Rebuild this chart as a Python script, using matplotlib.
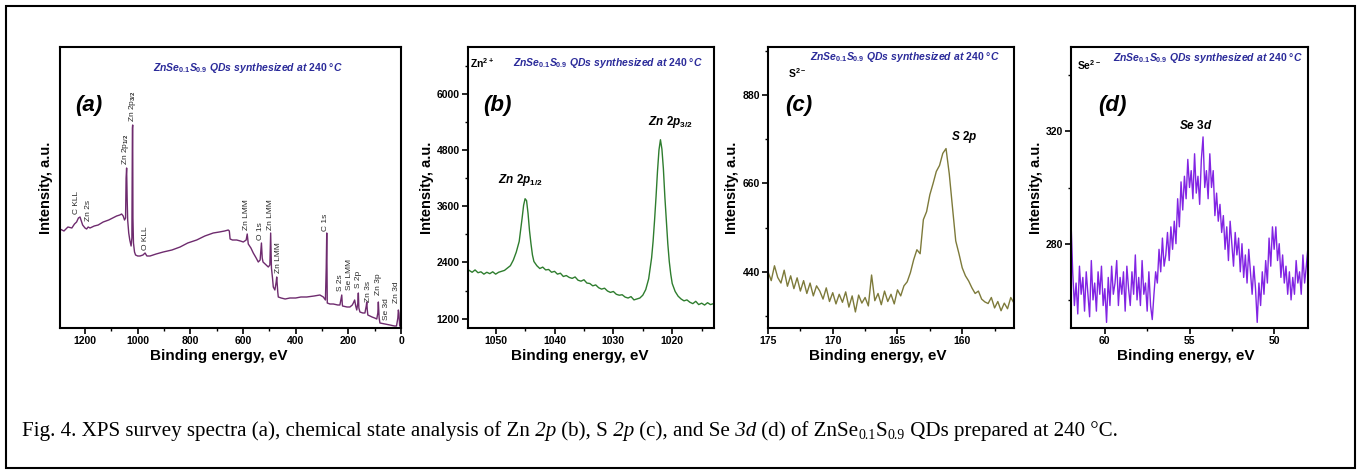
import numpy as np
import matplotlib
matplotlib.use('Agg')
import matplotlib.pyplot as plt
from matplotlib.ticker import MultipleLocator, NullLocator
from matplotlib.patches import Rectangle

plt.rcParams['font.family'] = 'Liberation Sans'
plt.rcParams['font.weight'] = 'bold'
plt.rcParams['mathtext.fontset'] = 'custom'
plt.rcParams['mathtext.rm'] = 'Liberation Sans:bold'
plt.rcParams['mathtext.it'] = 'Liberation Sans:italic:bold'
plt.rcParams['mathtext.bf'] = 'Liberation Sans:bold'
plt.rcParams['mathtext.sf'] = 'Liberation Sans'

# ---------------- data ----------------
# (a) survey spectrum, arbitrary units
survey_energy = [1295, 1280, 1265, 1250, 1240, 1232, 1225, 1219, 1213, 1209, 1200, 1194,
                 1188, 1181, 1165, 1150, 1131, 1110, 1095, 1080, 1068, 1061, 1055, 1050,
                 1046, 1044, 1042, 1040, 1038, 1034, 1030, 1025, 1022, 1020, 1019, 1018,
                 1016, 1012, 1008, 1000, 991, 980, 972, 965, 953, 930, 903, 870, 839, 810,
                 776, 745, 713, 690, 670, 656, 652, 649, 640, 624, 610, 599, 588, 584, 580,
                 570, 561, 550, 542, 535, 530, 527, 524, 512, 504, 498, 495, 492, 488, 485,
                 479, 474, 472, 468, 466, 455, 440, 422, 400, 380, 358, 330, 308, 295, 287,
                 284, 282, 280, 270, 257, 240, 232, 227, 225, 223, 222, 205, 194, 185, 181,
                 176, 172, 168, 164, 162, 160, 156, 145, 137, 132, 130, 128, 126, 110, 100,
                 92, 88, 86, 83, 80, 60, 42, 25, 17, 12, 10, 8, 5, 2, 0]
survey_counts = [99, 97, 101, 100, 104, 106, 110, 111, 106, 103, 100, 99,
                 101, 100, 102, 103, 106, 108, 110, 112, 113, 114, 112, 108,
                 110, 150, 160, 130, 108, 95, 88, 82, 90, 200, 203, 110,
                 85, 76, 73, 72, 72, 73, 75, 72, 72, 74, 76, 78, 81, 85,
                 88, 92, 95, 96, 97, 98, 97, 89, 88, 88, 87, 86, 88, 94, 84,
                 80, 75, 70, 66, 68, 85, 70, 66, 63, 61, 63, 95, 60, 50, 41,
                 38, 46, 51, 36, 31, 30, 29, 30, 30, 31, 31, 32, 33, 31, 28,
                 60, 95, 25, 24, 24, 23, 23, 30, 33, 24, 22, 21, 21, 23, 25,
                 28, 22, 18, 25, 35, 20, 16, 15, 15, 22, 26, 18, 13, 11, 10,
                 9, 15, 26, 10, 5, 4, 3, 2, 2, 10, 18, 15, 2, 2, 2]
survey_labels = ['C KLL', 'Zn 2s', 'Zn 2p$_{\\mathsf{1/2}}$', 'Zn 2p$_{\\mathsf{3/2}}$', 'O KLL',
                 'Zn LMM', 'O 1s', 'Zn LMM', 'Zn LMM', 'C 1s', 'S 2s', 'Se LMM', 'S 2p',
                 'Zn 3s', 'Zn 3p', 'Se 3d', 'Zn 3d']
survey_label_e = [1232, 1188, 1046, 1020, 972, 586, 532, 495, 466, 285, 228, 194, 162,
                  124, 86, 54, 16]
survey_label_y = [113, 106, 162, 205, 77, 97, 87, 97, 54, 96, 36, 37, 39, 25, 32, 7, 24]

# (b) Zn 2p
zn_energy = [1054.5, 1054.0, 1053.5, 1053.0, 1052.5, 1052.0, 1051.5, 1051.0, 1050.5, 1050.0,
             1049.5, 1049.0, 1048.5, 1048.0, 1047.5, 1047.0, 1046.5, 1046.0, 1045.75, 1045.5,
             1045.25, 1045.0, 1044.75, 1044.5, 1044.25, 1044.0, 1043.75, 1043.5, 1043.0, 1042.5,
             1042.0, 1041.5, 1041.0, 1040.5, 1040.0, 1039.5, 1039.0, 1038.5, 1038.0, 1037.5,
             1037.0, 1036.5, 1036.0, 1035.5, 1035.0, 1034.5, 1034.0, 1033.5, 1033.0, 1032.5,
             1032.0, 1031.5, 1031.0, 1030.5, 1030.0, 1029.5, 1029.0, 1028.5, 1028.0, 1027.5,
             1027.0, 1026.5, 1026.0, 1025.5, 1025.0, 1024.5, 1024.0, 1023.5, 1023.25, 1023.0,
             1022.75, 1022.5, 1022.25, 1022.0, 1021.75, 1021.5, 1021.25, 1021.0, 1020.75, 1020.5,
             1020.25, 1020.0, 1019.5, 1019.0, 1018.5, 1018.0, 1017.5, 1017.0, 1016.5, 1016.0,
             1015.5, 1015.0, 1014.5, 1014.0, 1013.5, 1013.0]
zn_counts = [2230, 2190, 2240, 2180, 2200, 2150, 2190, 2160, 2200, 2150,
             2190, 2210, 2230, 2280, 2330, 2450, 2620, 2850, 3100, 3350,
             3620, 3760, 3720, 3450, 3080, 2800, 2560, 2420, 2330, 2270,
             2300, 2240, 2250, 2190, 2210, 2150, 2170, 2100, 2120, 2080,
             2060, 2090, 2020, 2000, 2030, 1960, 1950, 1900, 1920, 1860,
             1830, 1850, 1790, 1760, 1780, 1720, 1700, 1710, 1660, 1640,
             1670, 1600, 1620, 1640, 1700, 1820, 2050, 2500, 2850, 3300,
             3800, 4350, 4800, 5020, 4820, 4400, 3800, 3300, 2800, 2420,
             2150, 1950, 1780, 1680, 1620, 1580, 1600, 1550, 1520, 1570,
             1500, 1530, 1490, 1540, 1500, 1520]

# (c) S 2p
s_energy = [175.0, 174.75, 174.5, 174.25, 174.0, 173.75, 173.5, 173.25, 173.0, 172.75,
            172.5, 172.25, 172.0, 171.75, 171.5, 171.25, 171.0, 170.75, 170.5, 170.25,
            170.0, 169.75, 169.5, 169.25, 169.0, 168.75, 168.5, 168.25, 168.0, 167.75,
            167.5, 167.25, 167.0, 166.75, 166.5, 166.25, 166.0, 165.75, 165.5, 165.25,
            165.0, 164.75, 164.5, 164.25, 164.0, 163.75, 163.5, 163.25, 163.0, 162.75,
            162.5, 162.25, 162.0, 161.75, 161.5, 161.25, 161.0, 160.75, 160.5, 160.25,
            160.0, 159.75, 159.5, 159.25, 159.0, 158.75, 158.5, 158.25, 158.0, 157.75,
            157.5, 157.25, 157.0, 156.75, 156.5, 156.25, 156.0]
s_counts = [440, 418, 455, 426, 412, 444, 404, 430, 398, 425,
            392, 418, 386, 412, 380, 405, 392, 372, 400, 366,
            388, 360, 384, 364, 390, 352, 380, 340, 382, 362,
            376, 355, 432, 368, 386, 358, 392, 366, 384, 360,
            395, 380, 405, 415, 438, 470, 495, 485, 570, 590,
            632, 660, 690, 705, 735, 747, 684, 600, 517, 485,
            450, 430, 417, 400, 386, 392, 372, 365, 361, 376,
            350, 366, 343, 362, 348, 376, 362]

# (d) Se 3d
se_energy = [62.0, 61.9, 61.8, 61.7, 61.6, 61.5, 61.4, 61.3, 61.2, 61.1,
             61.0, 60.9, 60.8, 60.7, 60.6, 60.5, 60.4, 60.3, 60.2, 60.1,
             60.0, 59.9, 59.8, 59.7, 59.6, 59.5, 59.4, 59.3, 59.2, 59.1,
             59.0, 58.9, 58.8, 58.7, 58.6, 58.5, 58.4, 58.3, 58.2, 58.1,
             58.0, 57.9, 57.8, 57.7, 57.6, 57.5, 57.4, 57.3, 57.2, 57.1,
             57.0, 56.9, 56.8, 56.7, 56.6, 56.5, 56.4, 56.3, 56.2, 56.1,
             56.0, 55.9, 55.8, 55.7, 55.6, 55.5, 55.4, 55.3, 55.2, 55.1,
             55.0, 54.9, 54.8, 54.7, 54.6, 54.5, 54.4, 54.3, 54.2, 54.1,
             54.0, 53.9, 53.8, 53.7, 53.6, 53.5, 53.4, 53.3, 53.2, 53.1,
             53.0, 52.9, 52.8, 52.7, 52.6, 52.5, 52.4, 52.3, 52.2, 52.1,
             52.0, 51.9, 51.8, 51.7, 51.6, 51.5, 51.4, 51.3, 51.2, 51.1,
             51.0, 50.9, 50.8, 50.7, 50.6, 50.5, 50.4, 50.3, 50.2, 50.1,
             50.0, 49.9, 49.8, 49.7, 49.6, 49.5, 49.4, 49.3, 49.2, 49.1,
             49.0, 48.9, 48.8, 48.7, 48.6, 48.5, 48.4, 48.3, 48.2, 48.1, 48.0]
se_counts = [288, 270, 258, 266, 255, 272, 262, 268, 256, 270,
             262, 254, 274, 260, 266, 256, 270, 262, 272, 258,
             264, 252, 268, 258, 272, 262, 266, 274, 258, 268,
             262, 270, 256, 272, 264, 258, 270, 262, 276, 260,
             268, 258, 274, 262, 266, 256, 270, 258, 253, 262,
             270, 266, 278, 270, 282, 272, 276, 284, 274, 286,
             278, 288, 280, 296, 286, 302, 292, 304, 296, 310,
             300, 306, 296, 312, 298, 304, 294, 310, 318, 300,
             306, 296, 312, 300, 306, 290, 298, 288, 294, 284,
             290, 278, 286, 274, 288, 280, 272, 284, 276, 282,
             270, 280, 268, 276, 266, 278, 270, 262, 272, 264,
             252, 266, 258, 270, 262, 274, 266, 282, 272, 286,
             278, 286, 274, 280, 268, 276, 266, 272, 262, 270,
             260, 268, 262, 274, 266, 270, 262, 276, 266, 272, 279]

panel_tags = ['(a)', '(b)', '(c)', '(d)']
ion_labels = [None, 'Zn$^{2+}$', 'S$^{2-}$', 'Se$^{2-}$']
subtitle = r'$\mathit{ZnSe_{0.1}S_{0.9}\ QDs\ synthesized\ at\ 240\ °C}$'
caption_parts = [('Fig. 4. XPS survey spectra (a), chemical state analysis of Zn', 'normal', 0),
                 (' 2p', 'italic', 0), (' (b), S', 'normal', 0), (' 2p', 'italic', 0),
                 (' (c), and Se', 'normal', 0), (' 3d', 'italic', 0),
                 (' (d) of ZnSe', 'normal', 0), ('0.1', 'normal', 1), ('S', 'normal', 0),
                 ('0.9', 'normal', 1), (' QDs prepared at 240 \u00b0C.', 'normal', 0)]

# ---------------- figure ----------------
W, H = 1359, 474
fig = plt.figure(figsize=(W / 100, H / 100), dpi=100)


def px_axes(l, r, t, b):
    return fig.add_axes([l / W, (H - b) / H, (r - l) / W, (b - t) / H])


ax_a = px_axes(60, 401, 47, 328)
ax_b = px_axes(468, 714, 47, 328)
ax_c = px_axes(768, 1014, 47, 328)
ax_d = px_axes(1071, 1308, 47, 328)
axes = [ax_a, ax_b, ax_c, ax_d]

ax_a.plot(survey_energy, survey_counts, color='#6e2b6e', lw=1.0)
ax_b.plot(zn_energy, zn_counts, color='#2e7d2e', lw=1.0)
ax_c.plot(s_energy, s_counts, color='#7d7a3a', lw=1.0)
ax_d.plot(se_energy, se_counts, color='#8224e3', lw=1.0)

ax_a.set_xlim(1295, 0)
ax_a.set_ylim(0, 281)
ax_b.set_xlim(1054.7, 1012.9)
ax_b.set_ylim(1000, 7000)
ax_c.set_xlim(175, 156)
ax_c.set_ylim(300, 1000)
ax_d.set_xlim(62, 48)
ax_d.set_ylim(250, 350)

ax_a.xaxis.set_major_locator(MultipleLocator(200))
ax_a.xaxis.set_minor_locator(MultipleLocator(100))
ax_a.yaxis.set_major_locator(NullLocator())
ax_b.xaxis.set_major_locator(MultipleLocator(10))
ax_b.xaxis.set_minor_locator(MultipleLocator(5))
ax_b.yaxis.set_major_locator(MultipleLocator(1200))
ax_b.yaxis.set_minor_locator(MultipleLocator(600))
ax_c.xaxis.set_major_locator(MultipleLocator(5))
ax_c.xaxis.set_minor_locator(MultipleLocator(2.5))
ax_c.yaxis.set_major_locator(MultipleLocator(220))
ax_c.yaxis.set_minor_locator(MultipleLocator(110))
ax_d.xaxis.set_major_locator(MultipleLocator(5))
ax_d.xaxis.set_minor_locator(MultipleLocator(2.5))
ax_d.yaxis.set_major_locator(MultipleLocator(40))
ax_d.yaxis.set_minor_locator(MultipleLocator(20))

sub_pos = [(248, 68), (608, 63), (905, 57), (1208, 58)]
xlabel_frac = [0.466, 0.455, 0.447, 0.485]
for ax, (sx, sy), xf in zip(axes, sub_pos, xlabel_frac):
    for s in ax.spines.values():
        s.set_linewidth(1.5)
    ax.tick_params(which='major', direction='out', length=4, width=1.2, labelsize=7.5, pad=2)
    ax.tick_params(which='minor', direction='out', length=2.5, width=1.0)
    ax.set_xlabel('Binding energy, eV', fontsize=11, fontweight='bold', labelpad=2)
    ax.xaxis.label.set_x(xf)
    ax.set_ylabel('Intensity, a.u.', fontsize=10.5, fontweight='bold', labelpad=2)
    fig.text(sx / W, (H - sy) / H, subtitle, ha='center', va='center',
             fontsize=7.5, color='#2b2b9a')

ax_a.yaxis.set_label_coords(-0.021, 0.5)

# panel tags
tag_pos = [(75, 105), (483, 105), (785, 105), (1098, 105)]
for tag, (x, y) in zip(panel_tags, tag_pos):
    fig.text(x / W, (H - y) / H, tag, fontsize=16, fontweight='bold', style='italic',
             ha='left', va='center')

ion_pos = [None, (470, 63), (788, 73), (1077, 65)]
for lab, pos in zip(ion_labels, ion_pos):
    if lab:
        fig.text(pos[0] / W, (H - pos[1]) / H, lab, fontsize=7.5, ha='left', va='center')

# survey peak labels
for name, e, y in zip(survey_labels, survey_label_e, survey_label_y):
    ax_a.text(e, y + 1, name, rotation=90, ha='center', va='bottom', fontsize=6,
              fontweight='normal', color='#2a2a2a')

ax_b.text(1045.8, 4150, r'$\mathit{Zn\ 2p_{1/2}}$', ha='center', va='center', fontsize=8.5)
ax_b.text(1020.3, 5400, r'$\mathit{Zn\ 2p_{3/2}}$', ha='center', va='center', fontsize=8.5)
ax_c.text(159.8, 776, r'$\mathit{S\ 2p}$', ha='center', va='center', fontsize=8.5)
ax_d.text(54.6, 322, r'$\mathit{Se\ 3d}$', ha='center', va='center', fontsize=8.5)

# caption, Times-like, pieces chained left to right
renderer = fig.canvas.get_renderer()
x = 22
base = 436
for s, st, sub in caption_parts:
    size = 10 if sub else 15.1
    yy = base + (3 if sub else 0)
    t = fig.text(x / W, (H - yy) / H, s, family='Liberation Serif', style=st,
                 fontweight='normal', fontsize=size, ha='left', va='baseline')
    x = t.get_window_extent(renderer).x1

# outer frame
fig.patches.append(Rectangle((6 / W, 6 / H), (1355 - 6) / W, (468 - 6) / H,
                             transform=fig.transFigure, fill=False, lw=1.5, ec='black'))

fig.savefig('out.png', dpi=100)
